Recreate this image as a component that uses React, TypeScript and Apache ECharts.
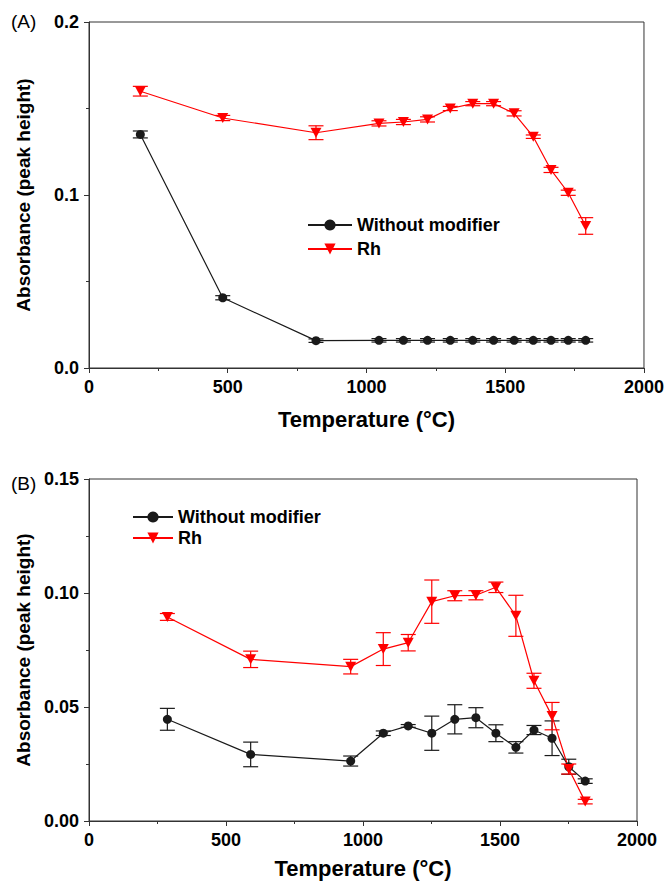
import React, { useEffect, useRef } from "react";
import * as echarts from "echarts";

// Panel A data
const tempsA = [185, 482, 818, 1045, 1133, 1220, 1302, 1383, 1458, 1532, 1601, 1665, 1727, 1790];
const blackA = [0.135, 0.0406, 0.0158, 0.016, 0.016, 0.016, 0.016, 0.016, 0.016, 0.016, 0.016, 0.016, 0.016, 0.016];
const blackErrA = [0.002, 0.0012, 0.001, 0.001, 0.001, 0.001, 0.001, 0.001, 0.001, 0.001, 0.001, 0.001, 0.001, 0.001];
const redA = [0.16, 0.1445, 0.136, 0.1414, 0.1422, 0.1437, 0.15, 0.1528, 0.1528, 0.1472, 0.1337, 0.1145, 0.1013, 0.0821];
const redErrA = [0.0028, 0.0015, 0.004, 0.0015, 0.0015, 0.0015, 0.0012, 0.0012, 0.0012, 0.0015, 0.001, 0.0015, 0.0015, 0.0048];

// Panel B data
const tempsB = [286, 590, 955, 1074, 1165, 1251, 1335, 1412, 1485, 1558, 1624, 1690, 1751, 1811];
const blackB = [0.0446, 0.0292, 0.0263, 0.0385, 0.0417, 0.0385, 0.0446, 0.0453, 0.0385, 0.0323, 0.0399, 0.0363, 0.0238, 0.0175];
const blackErrB = [0.0048, 0.0054, 0.0022, 0.001, 0.0006, 0.0075, 0.0064, 0.0044, 0.0037, 0.0025, 0.002, 0.0076, 0.0033, 0.001];
const redB = [0.0895, 0.0709, 0.0677, 0.0754, 0.0782, 0.0962, 0.0988, 0.099, 0.1025, 0.09, 0.0615, 0.046, 0.0228, 0.0085];
const redErrB = [0.0015, 0.0036, 0.0032, 0.0072, 0.0036, 0.0095, 0.0022, 0.002, 0.0023, 0.009, 0.0033, 0.006, 0.0022, 0.001];

const seriesNames = ["Without modifier", "Rh"];
const xTitle = "Temperature (°C)";
const yTitle = "Absorbance (peak height)";
const panelLabels = ["(A)", "(B)"];

const BLACK = "#1a1a1a";
const RED = "#ff0000";
const FONT = "'Liberation Sans', Arial, sans-serif";
const TRI = "path://M0,0 L10,0 L5,9 Z";

function pairs(xs: number[], ys: number[]) {
  return xs.map((x, i) => [x, ys[i]]);
}
function triples(xs: number[], ys: number[], es: number[]) {
  return xs.map((x, i) => [x, ys[i], es[i]]);
}

function errRender(color: string) {
  return (params: any, api: any) => {
    const x = api.value(0);
    const y = api.value(1);
    const e = api.value(2);
    const top = api.coord([x, y + e]);
    const bot = api.coord([x, y - e]);
    const w = 7.5;
    const style = { stroke: color, lineWidth: 1.2, fill: null };
    return {
      type: "group",
      children: [
        { type: "line", shape: { x1: top[0], y1: top[1], x2: bot[0], y2: bot[1] }, style },
        { type: "line", shape: { x1: top[0] - w, y1: top[1], x2: top[0] + w, y2: top[1] }, style },
        { type: "line", shape: { x1: bot[0] - w, y1: bot[1], x2: bot[0] + w, y2: bot[1] }, style },
      ],
    };
  };
}

function xAxisCfg(gridIndex: number, nameGap: number) {
  return {
    type: "value",
    gridIndex,
    min: 0,
    max: 2000,
    interval: 500,
    name: xTitle,
    nameLocation: "middle",
    nameGap,
    nameTextStyle: { fontFamily: FONT, fontWeight: "bold", fontSize: 22, color: "#000" },
    axisLine: { show: true, onZero: false, lineStyle: { color: "#333", width: 1 } },
    axisTick: { show: true, inside: false, length: 5, lineStyle: { color: "#333" } },
    minorTick: { show: true, splitNumber: 2, length: 3, lineStyle: { color: "#333" } },
    splitLine: { show: false },
    minorSplitLine: { show: false },
    axisLabel: {
      fontFamily: FONT,
      fontWeight: "bold",
      fontSize: 18,
      color: "#000",
      margin: 10,
      formatter: (v: number) => String(v),
    },
  };
}

function yAxisCfg(gridIndex: number, max: number, interval: number, digits: number) {
  return {
    type: "value",
    gridIndex,
    min: 0,
    max,
    interval,
    name: yTitle,
    nameLocation: "middle",
    nameGap: 56,
    nameTextStyle: { fontFamily: FONT, fontWeight: "bold", fontSize: 19, color: "#000" },
    axisLine: { show: true, onZero: false, lineStyle: { color: "#333", width: 1 } },
    axisTick: { show: true, inside: false, length: 5, lineStyle: { color: "#333" } },
    minorTick: { show: true, splitNumber: 2, length: 3, lineStyle: { color: "#333" } },
    splitLine: { show: false },
    minorSplitLine: { show: false },
    axisLabel: {
      fontFamily: FONT,
      fontWeight: "bold",
      fontSize: 18,
      color: "#000",
      margin: 10,
      formatter: (v: number) => v.toFixed(digits),
    },
  };
}

function lineSeries(name: string, idx: number, data: number[][], color: string, isTri: boolean) {
  return {
    type: "line",
    name,
    xAxisIndex: idx,
    yAxisIndex: idx,
    data,
    symbol: isTri ? TRI : "circle",
    symbolSize: isTri ? [11, 10] : 9,
    showSymbol: true,
    lineStyle: { color, width: 1.2 },
    itemStyle: { color, borderWidth: 0 },
    z: 3,
  };
}

function errSeries(idx: number, data: number[][], color: string) {
  return {
    type: "custom",
    xAxisIndex: idx,
    yAxisIndex: idx,
    data,
    encode: { x: 0, y: 1 },
    renderItem: errRender(color),
    z: 2,
    silent: true,
  };
}

export default function App() {
  const ref = useRef<HTMLDivElement>(null);
  useEffect(() => {
    if (!ref.current) return;
    const chart = echarts.init(ref.current, null, { renderer: "svg" });
    const legendText = { fontFamily: FONT, fontWeight: "bold", fontSize: 18, color: "#000", lineHeight: 18 };
    chart.setOption({
      animation: false,
      backgroundColor: "#fff",
      grid: [
        { left: 89, right: 23, top: 22, height: 346, show: true, borderColor: "#333", borderWidth: 1, backgroundColor: "transparent" },
        { left: 89, right: 30, top: 479, height: 342, show: true, borderColor: "#333", borderWidth: 1, backgroundColor: "transparent" },
      ],
      xAxis: [xAxisCfg(0, 40), xAxisCfg(1, 36)],
      yAxis: [yAxisCfg(0, 0.2, 0.1, 1), yAxisCfg(1, 0.15, 0.05, 2)],
      legend: [
        {
          orient: "vertical",
          left: 302,
          top: 211,
          itemWidth: 44,
          itemHeight: 14,
          itemGap: 6,
          selectedMode: false,
          textStyle: legendText,
          data: seriesNames,
        },
        {
          orient: "vertical",
          left: 127,
          top: 503,
          itemWidth: 40,
          itemHeight: 14,
          itemGap: 3,
          selectedMode: false,
          textStyle: legendText,
          data: seriesNames,
        },
      ],
      graphic: [
        { type: "text", left: 11, top: 12, style: { text: panelLabels[0], font: `19px ${FONT}`, fill: "#000" } },
        { type: "text", left: 11, top: 474, style: { text: panelLabels[1], font: `19px ${FONT}`, fill: "#000" } },
      ],
      series: [
        errSeries(0, triples(tempsA, blackA, blackErrA), BLACK),
        errSeries(0, triples(tempsA, redA, redErrA), RED),
        lineSeries(seriesNames[0], 0, pairs(tempsA, blackA), BLACK, false),
        lineSeries(seriesNames[1], 0, pairs(tempsA, redA), RED, true),
        errSeries(1, triples(tempsB, blackB, blackErrB), BLACK),
        errSeries(1, triples(tempsB, redB, redErrB), RED),
        lineSeries(seriesNames[0], 1, pairs(tempsB, blackB), BLACK, false),
        lineSeries(seriesNames[1], 1, pairs(tempsB, redB), RED, true),
      ],
    });
    return () => chart.dispose();
  }, []);
  return (
    <div
      ref={ref}
      style={{ position: "fixed", left: 0, top: 0, width: 667, height: 884, background: "#fff" }}
    />
  );
}
